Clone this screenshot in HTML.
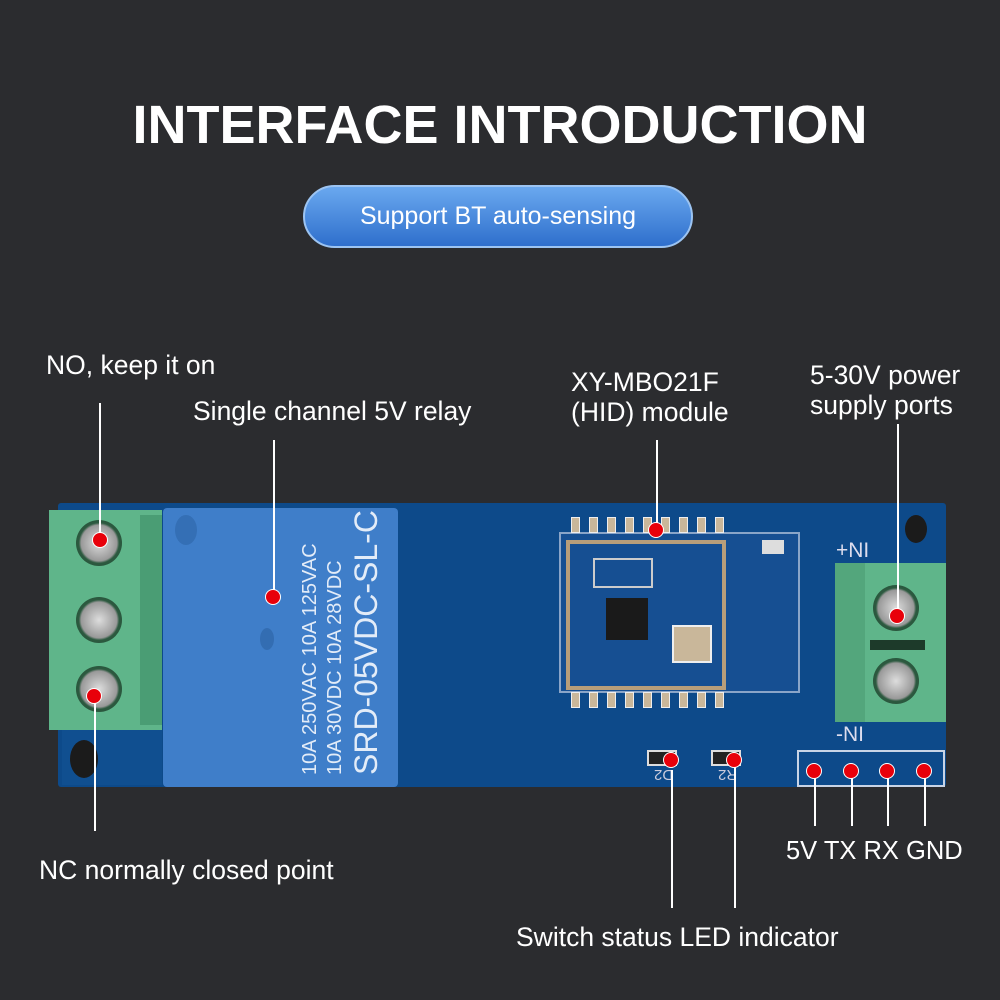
<!DOCTYPE html>
<html><head><meta charset="utf-8"><style>
*{margin:0;padding:0;box-sizing:border-box}
body{width:1000px;height:1000px;background:#2b2c2f;position:relative;overflow:hidden;font-family:"Liberation Sans",sans-serif;color:#fff}
.a{position:absolute}
.t{font-size:26.5px;white-space:nowrap;line-height:1.2}
.ln{position:absolute;width:2px;background:#fff}
.dot{position:absolute;width:16px;height:16px;border-radius:50%;background:#e8000a;border:1px solid #fff}
.screw{position:absolute;width:46px;height:46px;border-radius:50%;background:radial-gradient(circle,#ddd 0,#999 55%,#2d5a40 62%,#1e4a33 100%)}
.pad{position:absolute;width:9px;height:16px;background:#c9b79a;border:1px solid #eee}
</style></head><body>
<div class="a" style="left:0;top:94px;width:1000px;text-align:center;font-size:54px;font-weight:bold">INTERFACE INTRODUCTION</div>
<div class="a" style="left:303px;top:185px;width:390px;height:63px;border-radius:32px;background:linear-gradient(#6aa8ef,#2f6fcc);border:2px solid #9cc4f2;text-align:center;line-height:58px;font-size:25px">Support BT auto-sensing</div>

<div class="a" style="left:58px;top:503px;width:888px;height:284px;background:#0d4a8a;border-radius:3px"></div>
<div class="a" style="left:62px;top:730px;width:100px;height:55px;background:#104f90"></div>
<div class="a" style="left:70px;top:740px;width:28px;height:38px;border-radius:50%;background:#1b1b1b"></div>
<div class="a" style="left:905px;top:515px;width:22px;height:28px;border-radius:50%;background:#1b1b1b"></div>
<div class="a" style="left:49px;top:510px;width:113px;height:220px;background:#5fb58a"></div>
<div class="a" style="left:140px;top:515px;width:22px;height:210px;background:#4a9d74"></div>
<div class="screw" style="left:76px;top:520px"></div>
<div class="screw" style="left:76px;top:597px"></div>
<div class="screw" style="left:76px;top:666px"></div>
<div class="a" style="left:163px;top:508px;width:235px;height:279px;background:#3f7ec9;border-radius:4px"></div>
<div class="a" style="left:175px;top:515px;width:22px;height:30px;border-radius:50%;background:#346fb5"></div>
<div class="a" style="left:260px;top:628px;width:14px;height:22px;border-radius:50%;background:#336db2"></div>
<div class="a" style="left:298px;top:775px;transform:rotate(-90deg);transform-origin:0 0;color:#e3ecf8;font-size:20px;line-height:25px;width:270px;white-space:nowrap">
<div>10A 250VAC 10A 125VAC</div><div>10A 30VDC 10A 28VDC</div><div style="font-size:32px;line-height:36px">SRD-05VDC-SL-C</div></div>
<div class="a" style="left:559px;top:532px;width:241px;height:161px;background:#164f92;border:2px solid #8aa5c8"></div>
<div class="a" style="left:566px;top:540px;width:160px;height:150px;border:4px solid #b89e7a"></div>
<div class="a" style="left:606px;top:598px;width:42px;height:42px;background:#1a1a1a"></div>
<div class="a" style="left:672px;top:625px;width:40px;height:38px;background:#c9b79a;border:2px solid #eee"></div>
<div class="a" style="left:593px;top:558px;width:60px;height:30px;border:2px solid #ccc"></div>
<div class="a" style="left:762px;top:540px;width:22px;height:14px;background:#ddd"></div>
<div class="pad" style="left:571px;top:517px"></div><div class="pad" style="left:589px;top:517px"></div><div class="pad" style="left:607px;top:517px"></div><div class="pad" style="left:625px;top:517px"></div><div class="pad" style="left:643px;top:517px"></div><div class="pad" style="left:661px;top:517px"></div><div class="pad" style="left:679px;top:517px"></div><div class="pad" style="left:697px;top:517px"></div><div class="pad" style="left:715px;top:517px"></div>
<div class="pad" style="left:571px;top:692px"></div><div class="pad" style="left:589px;top:692px"></div><div class="pad" style="left:607px;top:692px"></div><div class="pad" style="left:625px;top:692px"></div><div class="pad" style="left:643px;top:692px"></div><div class="pad" style="left:661px;top:692px"></div><div class="pad" style="left:679px;top:692px"></div><div class="pad" style="left:697px;top:692px"></div><div class="pad" style="left:715px;top:692px"></div>
<div class="a t" style="left:836px;top:538px;font-size:21px;color:#dde">+NI</div>
<div class="a t" style="left:836px;top:722px;font-size:21px;color:#dde">-NI</div>
<div class="a" style="left:835px;top:563px;width:111px;height:159px;background:#5fb58a"></div>
<div class="a" style="left:835px;top:563px;width:30px;height:159px;background:#53a67c"></div>
<div class="screw" style="left:873px;top:585px"></div>
<div class="screw" style="left:873px;top:658px"></div>
<div class="a" style="left:870px;top:640px;width:55px;height:10px;background:#1d3a2a"></div>
<div class="a" style="left:797px;top:750px;width:148px;height:37px;border:2px solid #c8d4e6"></div>
<div class="a" style="left:647px;top:750px;width:30px;height:16px;border:2px solid #ddd;background:#222"></div>
<div class="a" style="left:711px;top:750px;width:30px;height:16px;border:2px solid #ddd;background:#222"></div>
<div class="a t" style="left:654px;top:765px;font-size:15px;transform:rotate(180deg);color:#ccd">D2</div>
<div class="a t" style="left:718px;top:765px;font-size:15px;transform:rotate(180deg);color:#ccd">R2</div>

<div class="ln" style="left:99px;top:403px;height:137px"></div>
<div class="ln" style="left:94px;top:696px;height:135px"></div>
<div class="ln" style="left:273px;top:440px;height:157px"></div>
<div class="ln" style="left:656px;top:440px;height:90px"></div>
<div class="ln" style="left:897px;top:424px;height:192px"></div>
<div class="ln" style="left:671px;top:770px;height:138px"></div>
<div class="ln" style="left:734px;top:760px;height:148px"></div>
<div class="ln" style="left:814px;top:772px;height:54px"></div>
<div class="ln" style="left:851px;top:772px;height:54px"></div>
<div class="ln" style="left:887px;top:772px;height:54px"></div>
<div class="ln" style="left:924px;top:772px;height:54px"></div>
<div class="dot" style="left:92px;top:532px"></div>
<div class="dot" style="left:86px;top:688px"></div>
<div class="dot" style="left:265px;top:589px"></div>
<div class="dot" style="left:648px;top:522px"></div>
<div class="dot" style="left:889px;top:608px"></div>
<div class="dot" style="left:663px;top:752px"></div>
<div class="dot" style="left:726px;top:752px"></div>
<div class="dot" style="left:806px;top:763px"></div>
<div class="dot" style="left:843px;top:763px"></div>
<div class="dot" style="left:879px;top:763px"></div>
<div class="dot" style="left:916px;top:763px"></div>
<div class="a t" style="left:46px;top:350px">NO, keep it on</div>
<div class="a t" style="left:193px;top:396px">Single channel 5V relay</div>
<div class="a t" style="left:571px;top:367px;line-height:30px">XY-MBO21F<br>(HID) module</div>
<div class="a t" style="left:810px;top:360px;line-height:30px">5-30V power<br>supply ports</div>
<div class="a t" style="left:39px;top:855px">NC normally closed point</div>
<div class="a t" style="left:786px;top:836px;font-size:25.5px">5V TX RX GND</div>
<div class="a t" style="left:516px;top:922px">Switch status LED indicator</div>
</body></html>
